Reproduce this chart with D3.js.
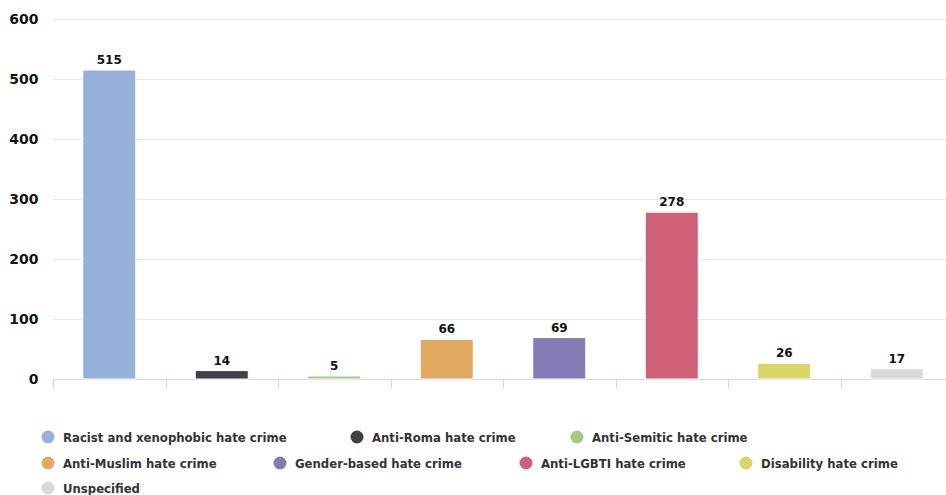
<!DOCTYPE html>
<html><head><meta charset="utf-8">
<script src="https://cdn.jsdelivr.net/npm/d3@7"></script>
<style>
body{margin:0;background:#fff;}
text{font-family:"DejaVu Sans",Verdana,sans-serif;font-weight:bold;}
</style></head>
<body><svg id="c" width="946" height="495"></svg>
<script>
const categories = ["Racist and xenophobic hate crime","Anti-Roma hate crime","Anti-Semitic hate crime","Anti-Muslim hate crime","Gender-based hate crime","Anti-LGBTI hate crime","Disability hate crime","Unspecified"];
const values = [515,14,5,66,69,278,26,17];
const colors = ["#97b1dd","#3f3f45","#a1cd7d","#e1a862","#837cb5","#cf6078","#d9d566","#d9d9d7"];
const yTicks = [0,100,200,300,400,500,600];
const legendRows = [[0,1,2],[3,4,5,6],[7]];
const legendX = [[48,357,577],[48,280,526,746],[48]];

const svg = d3.select("#c");
const L=53, R=953, T=19, B=379;
const x = d3.scaleBand().domain(categories).range([L,R]).paddingInner(0).paddingOuter(0);
const y = d3.scaleLinear().domain([0,600]).range([B,T]);

// grid
svg.append("g").selectAll("line").data(yTicks.filter(d=>d>0)).join("line")
 .attr("x1",L).attr("x2",R).attr("y1",d=>y(d)+0.5).attr("y2",d=>y(d)+0.5)
 .attr("stroke","#e6e6e6").attr("stroke-width",1);
// y labels
svg.append("g").selectAll("text").data(yTicks).join("text")
 .attr("x",38.5).attr("y",d=>y(d)+5).attr("text-anchor","end")
 .attr("font-size","14px").attr("fill","#111").text(d=>d);
// x axis
svg.append("line").attr("x1",L).attr("x2",R).attr("y1",B+0.5).attr("y2",B+0.5).attr("stroke","#ccd6eb");
svg.append("g").selectAll("line").data(categories).join("line")
 .attr("x1",d=>Math.round(x(d))+0.5).attr("x2",d=>Math.round(x(d))+0.5).attr("y1",B).attr("y2",B+10)
 .attr("stroke","#ccd6eb");
// bars
const bw = 53;
svg.append("g").selectAll("rect").data(values).join("rect")
 .attr("x",(d,i)=>x(categories[i])+x.bandwidth()/2-bw/2)
 .attr("y",d=>y(d)).attr("width",bw).attr("height",d=>B-y(d))
 .attr("fill",(d,i)=>colors[i]).attr("stroke","#fff").attr("stroke-width",1);
// labels
svg.append("g").selectAll("text").data(values).join("text")
 .attr("x",(d,i)=>x(categories[i])+x.bandwidth()/2)
 .attr("y",d=>y(d)-6).attr("text-anchor","middle")
 .attr("font-size","12px").attr("fill","#111").text(d=>d);
// legend
const rowY=[437,463,488];
legendRows.forEach((row,r)=>{
  row.forEach((ci,k)=>{
    const g=svg.append("g").attr("transform",`translate(${legendX[r][k]},${rowY[r]})`);
    g.append("circle").attr("cx",0).attr("cy",0).attr("r",6.5).attr("fill",colors[ci]);
    g.append("text").attr("x",15).attr("y",4.5).attr("font-size","11.7px").attr("fill","#333").text(categories[ci]);
  });
});
</script></body></html>
